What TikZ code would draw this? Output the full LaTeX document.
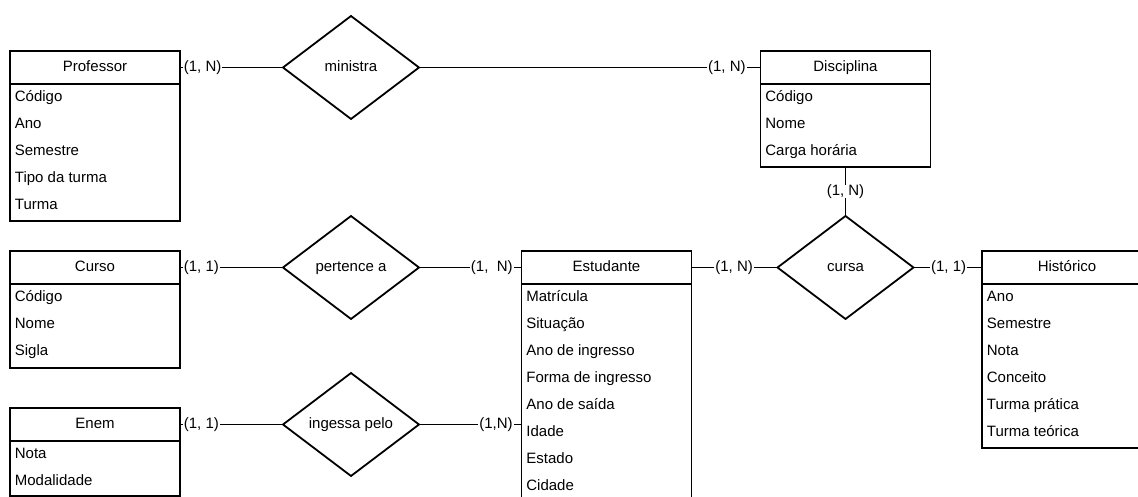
\documentclass[tikz,border=0pt]{standalone}
\usepackage{fontspec}
\setmainfont{Liberation Sans}
\usetikzlibrary{shapes.geometric,calc}
\begin{document}
\begin{tikzpicture}[x=1pt,y=-1pt,
  every node/.style={font=\fontsize{15}{18}\selectfont},
  line width=1.8pt,
  hdr/.style={draw, rectangle, fill=white, minimum width=170pt, minimum height=33pt,
    inner sep=0pt, outer sep=0pt, text height=11pt, text depth=3pt},
  ebody/.style={draw, rectangle, minimum width=170pt, anchor=north, inner sep=0pt, outer sep=0pt},
  attr/.style={anchor=base west, inner sep=0pt},
  rel/.style={draw, diamond, minimum width=136pt, minimum height=103pt, inner sep=0pt,
    outer sep=0pt, text height=11pt, text depth=3pt},
  card/.style={fill=white, inner xsep=1pt, inner ysep=1pt},
]
\useasboundingbox (0,0) rectangle (1138,497);

% entities: header + body
\node[hdr] (prof) at (95,67.5) {Professor};
\node[ebody, minimum height=137pt] (profb) at (prof.south) {};
\foreach \t [count=\i from 0] in {Código,Ano,Semestre,Tipo da turma,Turma}
  \node[attr] (prof-a\i) at ($(profb.north west)+(4,17.5+27*\i)$) {\t};

\node[hdr] (disc) at (845.5,67.5) {Disciplina};
\node[ebody, minimum height=83pt] (discb) at (disc.south) {};
\foreach \t [count=\i from 0] in {Código,Nome,Carga horária}
  \node[attr] (disc-a\i) at ($(discb.north west)+(4,17.5+27*\i)$) {\t};

\node[hdr] (curso) at (95,267.5) {Curso};
\node[ebody, minimum height=84pt] (cursob) at (curso.south) {};
\foreach \t [count=\i from 0] in {Código,Nome,Sigla}
  \node[attr] (curso-a\i) at ($(cursob.north west)+(4,17.5+27*\i)$) {\t};

\node[hdr] (estud) at (606.5,267.5) {Estudante};
\node[ebody, minimum height=230pt] (estudb) at (estud.south) {};
\foreach \t [count=\i from 0] in {Matrícula,Situação,Ano de ingresso,Forma de ingresso,Ano de saída,Idade,Estado,Cidade}
  \node[attr] (estud-a\i) at ($(estudb.north west)+(4,17.5+27*\i)$) {\t};

\node[hdr] (hist) at (1067,267.5) {Histórico};
\node[ebody, minimum height=164pt] (histb) at (hist.south) {};
\foreach \t [count=\i from 0] in {Ano,Semestre,Nota,Conceito,Turma prática,Turma teórica}
  \node[attr] (hist-a\i) at ($(histb.north west)+(4,17.5+27*\i)$) {\t};

\node[hdr] (enem) at (95,424.5) {Enem};
\node[ebody, minimum height=55pt] (enemb) at (enem.south) {};
\foreach \t [count=\i from 0] in {Nota,Modalidade}
  \node[attr] (enem-a\i) at ($(enemb.north west)+(4,17.5+27*\i)$) {\t};

% relationships
\node[rel] (ministra) at (351,67.5) {ministra};
\node[rel] (pertence) at (351,267.5) {pertence a};
\node[rel] (cursa) at (845.5,267.5) {cursa};
\node[rel] (ingessa) at (351,424.5) {ingessa pelo};

% connectors with cardinalities
\draw (prof.east) -- node[card, anchor=west, pos=0, xshift=2pt] {(1, N)} (ministra.west);
\draw (ministra.east) -- node[card, anchor=east, pos=1, xshift=-13pt] {(1, N)} (disc.west);
\draw (discb.south) -- node[card, inner ysep=0pt] {(1, N)} (cursa.north);
\draw (curso.east) -- node[card, anchor=west, pos=0, xshift=2pt] {(1, 1)} (pertence.west);
\draw (pertence.east) -- node[card, anchor=east, pos=1, xshift=-7pt] {(1,\ \ N)} (estud.west);
\draw (estud.east) -- node[card, anchor=west, pos=0, xshift=22pt] {(1, N)} (cursa.west);
\draw (cursa.east) -- node[card, anchor=east, pos=1, xshift=-14pt] {(1, 1)} (hist.west);
\draw (enem.east) -- node[card, anchor=west, pos=0, xshift=2pt] {(1, 1)} (ingessa.west);
\draw (ingessa.east) -- node[card, anchor=east, pos=1, xshift=-7pt] {(1,N)} (ingessa.east -| estudb.west);
\end{tikzpicture}
\end{document}
